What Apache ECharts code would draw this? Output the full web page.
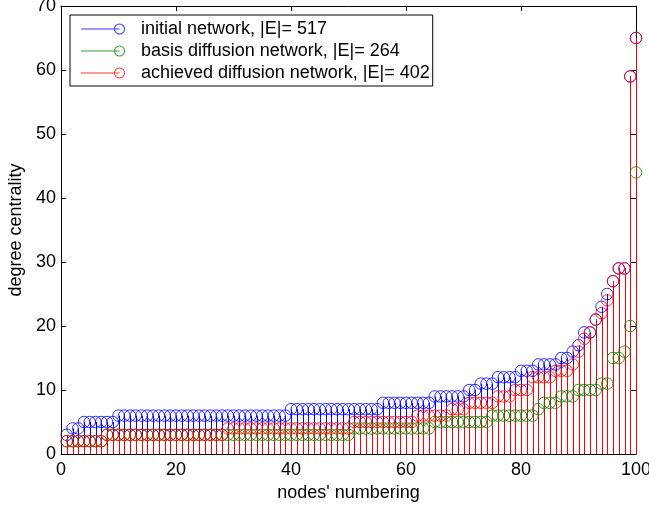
<!DOCTYPE html>
<html><head><meta charset="utf-8">
<script src="https://cdn.jsdelivr.net/npm/echarts@6/dist/echarts.min.js"></script>
<style>html,body{margin:0;padding:0;background:#fff}#c{width:649px;height:509px}</style>
</head><body><div id="c"></div>
<script>
const seriesNames = ['initial network, |E|= 517', 'basis diffusion network, |E|= 264', 'achieved diffusion network, |E|= 402'];
const xTicks = [0, 20, 40, 60, 80, 100];
const yTicks = [0, 10, 20, 30, 40, 50, 60, 70];

const initialNetwork = [3, 4,4, 5,5,5,5,5,5,
 6,6,6,6,6,6,6,6,6,6, 6,6,6,6,6,6,6,6,6,6, 6,6,6,6,6,6,6,6,6,6,
 7,7,7,7,7,7,7,7, 7,7,7,7,7,7,7,7,
 8,8,8,8,8,8,8,8,8,
 9,9,9,9,9,9,
 10,10, 11,11,11, 12,12,12,12, 13,13,13, 14,14,14,14, 15,15,
 16,17,19,19,21,23,25,27,29,29,59,65];

const basisDiffusion = [2,2,2,2,2,2,2,
 3,3,3,3,3,3,3,3,3,3, 3,3,3,3,3,3,3,3,3,3, 3,3,3,3,3,3,3,3,3,3, 3,3,3,3,3,3,3,3,3,3, 3,3,3,
 4,4,4,4,4,4,4,4,4,4,4,4,4,4,
 5,5,5,5,5,5,5,5,5,5,
 6,6,6,6,6,6,6,6,
 7, 8,8,8, 9,9,9, 10,10,10,10, 11,11, 15,15, 16, 20, 44];

const achievedDiffusion = [2,2,2,2,2,2,2,
 3,3,3,3,3,3,3,3,3,3, 3,3,3,3,3,3,3,3,3,3, 3,
 4,4,4,4,4,4,4,4,4,4, 4,4,4,4,4,4,4,4,4,4, 4,4,
 5,5,5,5,5,5,5,5,5,5,5,
 6,6,6,6,6,6,
 7,7,7,
 8,8,8,8,8,
 9,9,9,
 10,10,10,
 12,12,12,12,
 13,13,13,
 14,16,18,19,21,22,24,27,29,29,59,65];

const colors = ['#0000ff', '#008000', '#ff0000'];
const allValues = [initialNetwork, basisDiffusion, achievedDiffusion];
const FONT = "'Liberation Sans', Arial, Helvetica, sans-serif";

function toPoints(arr) { return arr.map((v, i) => [i + 1, v]); }

function stemRender(color) {
  return function (params, api) {
    const x = api.value(0), v = api.value(1);
    const p0 = api.coord([x, 0]), p1 = api.coord([x, v]);
    const px = Math.round(p0[0]) + 0.5;
    return { type: 'line', silent: true,
      shape: { x1: px, y1: p0[1], x2: px, y2: p1[1] },
      style: { stroke: color, lineWidth: 1 } };
  };
}

const ICON = 'path://M0,5 L33,5 L33,6 L0,6 Z ' +
  'M34,5 L38.5,5 L38.5,6 L34,6 Z ' +
  'M44,5.5 A5.5,5.5 0 1 0 33,5.5 A5.5,5.5 0 1 0 44,5.5 Z ' +
  'M43,5.5 A4.5,4.5 0 1 1 34,5.5 A4.5,4.5 0 1 1 43,5.5 Z ' +
  'M55,5.5 L55,5.5';

const series = [];
allValues.forEach((arr, k) => {
  series.push({ type: 'custom', name: 'stem' + k, renderItem: stemRender(colors[k]),
    data: toPoints(arr), silent: true, z: 3 });
  series.push({ type: 'scatter', name: seriesNames[k], data: toPoints(arr),
    symbol: 'circle', symbolSize: 11.5, clip: false, silent: true, z: 3,
    itemStyle: { color: 'rgba(0,0,0,0)', borderColor: colors[k], borderWidth: 1 },
    emphasis: { disabled: true } });
});

const axisCommon = {
  type: 'value',
  axisLine: { show: true, onZero: false, lineStyle: { color: '#000', width: 1 } },
  axisTick: { show: true, inside: true, length: 5, lineStyle: { color: '#000', width: 1 } },
  splitLine: { show: false }
};

const option = {
  backgroundColor: '#fff',
  animation: false,
  grid: { left: 61, right: 13, top: 6, bottom: 55, containLabel: false, outerBoundsMode: 'none' },
  legend: {
    orient: 'vertical', left: 70, top: 15, padding: [5, 3, 4, 11], itemGap: 4,
    itemWidth: 55, itemHeight: 11, backgroundColor: '#fff', borderColor: '#000',
    borderWidth: 1, borderRadius: 0, selectedMode: false,
    textStyle: { color: '#000', fontSize: 18, fontFamily: FONT, lineHeight: 18 },
    data: seriesNames.map((n, i) => ({ name: n, icon: ICON,
      itemStyle: { color: colors[i], borderWidth: 0, borderColor: 'rgba(0,0,0,0)' } }))
  },
  xAxis: [
    Object.assign({}, axisCommon, { position: 'bottom', min: xTicks[0], max: xTicks[xTicks.length - 1], interval: 20,
      axisLabel: { color: '#000', fontSize: 18, fontFamily: FONT, margin: 7 },
      name: "nodes' numbering", nameLocation: 'middle', nameGap: 29,
      nameTextStyle: { color: '#000', fontSize: 18, fontFamily: FONT } }),
    Object.assign({}, axisCommon, { position: 'top', min: xTicks[0], max: xTicks[xTicks.length - 1], interval: 20,
      axisLabel: { show: false } })
  ],
  yAxis: [
    Object.assign({}, axisCommon, { position: 'left', min: yTicks[0], max: yTicks[yTicks.length - 1], interval: 10,
      axisLabel: { color: '#000', fontSize: 18, fontFamily: FONT, margin: 5 },
      name: 'degree centrality', nameLocation: 'middle', nameGap: 32, nameRotate: 90,
      nameTextStyle: { color: '#000', fontSize: 18, fontFamily: FONT } }),
    Object.assign({}, axisCommon, { position: 'right', min: yTicks[0], max: yTicks[yTicks.length - 1], interval: 10,
      axisLabel: { show: false } })
  ],
  series: series
};

const chart = echarts.init(document.getElementById('c'), null, { renderer: 'canvas' });
chart.setOption(option);
</script>
</body></html>
